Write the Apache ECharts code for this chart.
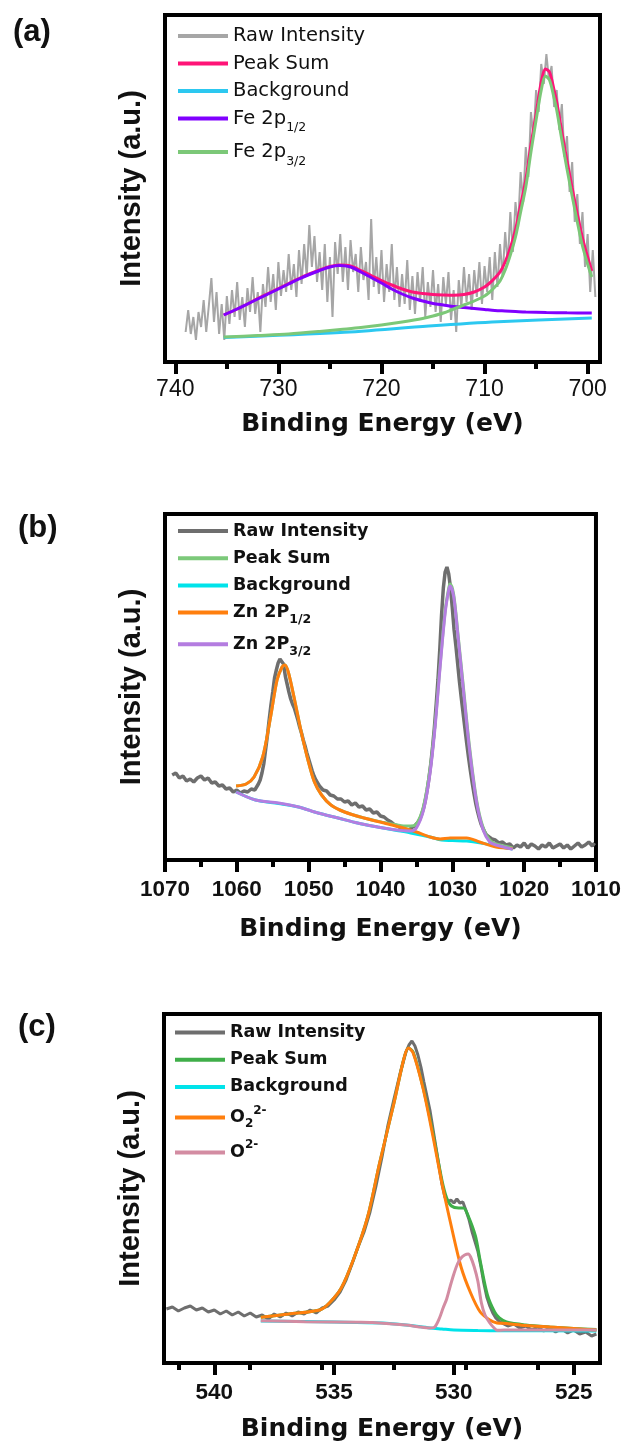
<!DOCTYPE html>
<html>
<head>
<meta charset="utf-8">
<script src="https://cdn.jsdelivr.net/npm/echarts@6/dist/echarts.min.js"></script>
<style>
  html, body { margin: 0; padding: 0; background: #fff; }
  #chart { width: 624px; height: 1443px; }
</style>
</head>
<body>
<div id="chart"></div>
<script>
// ---- panel (a) Fe 2p : [binding energy, intensity] ----
const feRaw = [[739.00,30],[738.75,52],[738.50,28],[738.25,45],[738.00,22],[737.75,50],[737.50,35],[737.25,62],[737.00,30],[736.75,56],[736.50,84],[736.25,40],[736.00,70],[735.75,28],[735.50,58],[735.25,22],[735.00,66],[734.75,38],[734.50,72],[734.25,45],[734.00,80],[733.75,42],[733.50,65],[733.25,35],[733.00,74],[732.75,50],[732.50,85],[732.25,48],[732.00,70],[731.75,30],[731.50,78],[731.25,55],[731.00,95],[730.75,60],[730.50,88],[730.25,52],[730.00,100],[729.75,66],[729.50,92],[729.25,70],[729.00,108],[728.75,72],[728.50,98],[728.25,65],[728.00,112],[727.75,78],[727.50,118],[727.25,85],[727.00,137],[726.75,95],[726.50,126],[726.25,80],[726.00,110],[725.75,72],[725.50,118],[725.25,60],[725.00,105],[724.75,45],[724.50,120],[724.25,88],[724.00,128],[723.75,80],[723.50,115],[723.25,72],[723.00,122],[722.75,90],[722.50,108],[722.25,70],[722.00,115],[721.75,82],[721.50,100],[721.25,62],[721.00,143],[720.75,75],[720.50,105],[720.25,68],[720.00,112],[719.75,60],[719.50,98],[719.25,70],[719.00,118],[718.75,62],[718.50,95],[718.25,55],[718.00,88],[717.75,58],[717.50,102],[717.25,52],[717.00,86],[716.75,48],[716.50,90],[716.25,60],[716.00,95],[715.75,45],[715.50,80],[715.25,55],[715.00,92],[714.75,50],[714.50,78],[714.25,40],[714.00,85],[713.75,58],[713.50,90],[713.25,42],[713.00,72],[712.75,30],[712.50,82],[712.25,55],[712.00,95],[711.75,60],[711.50,88],[711.25,52],[711.00,92],[710.75,65],[710.50,100],[710.25,58],[710.00,96],[709.75,70],[709.50,105],[709.25,62],[709.00,110],[708.75,75],[708.50,118],[708.25,85],[708.00,130],[707.75,98],[707.50,150],[707.25,110],[707.00,160],[706.75,135],[706.50,190],[706.25,160],[706.00,215],[705.75,185],[705.50,250],[705.25,225],[705.00,272],[704.75,250],[704.50,298],[704.25,278],[704.00,308],[703.75,282],[703.50,296],[703.25,255],[703.00,272],[702.75,232],[702.50,258],[702.25,205],[702.00,226],[701.75,170],[701.50,200],[701.25,140],[701.00,168],[700.75,118],[700.50,150],[700.25,95],[700.00,128],[699.75,70],[699.50,112],[699.25,65]];
const feSum = [[735.3,47],[734,53],[733,58],[732,63.5],[731,68.5],[730,73.5],[729,78.5],[728,83.5],[727,88],[726,92],[725,95.5],[724.1,97],[723,96],[722,91.5],[721,86.5],[720,81.5],[719,77],[718,73],[717,70],[716,68.5],[715,67.5],[714,67],[713,66.7],[712,67.5],[711,70],[710,75],[709.5,79],[709,84],[708.5,90],[708,100],[707.5,114],[707,132],[706.5,157],[706,182],[705.5,217],[705,248],[704.5,280],[704.1,293],[703.7,290],[703.3,274],[703,260],[702.5,230],[702,201],[701.5,174],[701,148],[700.5,124],[700,105],[699.6,91]];
const feBg = [[735.3,24.5],[724,29.5],[715.4,36],[708.7,40.3],[699.6,44]];
const fe2p12 = [[735.3,47],[734,53],[733,58],[732,63],[731,68],[730,73],[729,78],[728,83],[727,87.5],[726,91.5],[725,95],[724.1,96.5],[723,95],[722,90],[721,84.5],[720,79],[719,73],[718,68],[717,64],[716,61],[715,58.5],[714,57],[713,55.5],[712,54.5],[711,53.5],[710,52.5],[709,51.5],[708,51],[707,50.5],[706,50],[704,49.5],[702,49.2],[699.6,49]];
const fe2p32 = [[735.3,25],[732,26.5],[729,28],[726,30.5],[724,32.5],[722,34.5],[720,37],[718,40],[716,43.5],[715,46],[714,49],[713,53],[712,57],[711,61],[710,66],[709.5,70],[709,75],[708.5,81],[708,92],[707.5,107],[707,125],[706.5,150],[706,175],[705.5,210],[705,242],[704.5,272],[704.1,286],[703.7,282],[703.3,266],[703,252],[702.5,222],[702,193],[701.5,166],[701,140],[700.5,116],[700,98],[699.6,85]];

// ---- panel (b) Zn 2p ----
const znRaw = [[1069.0,85],[1068.5,87],[1068.0,82],[1067.5,84],[1067.0,79],[1066.5,81],[1066.0,78],[1065.5,82],[1065.0,84],[1064.5,80],[1064.0,82],[1063.5,77],[1063.0,78],[1062.5,74],[1062.0,75],[1061.5,71],[1061.0,72],[1060.5,68],[1060.0,70],[1059.5,67],[1059.0,69],[1058.5,68],[1058.0,71],[1057.5,70],[1057.25,73],[1057.0,76],[1056.75,80],[1056.5,87],[1056.25,96],[1056.0,110],[1055.75,124],[1055.5,140],[1055.25,155],[1055.0,168],[1054.75,182],[1054.5,190],[1054.25,197],[1054.0,201],[1053.75,203],[1053.5,196],[1053.25,184],[1053.0,176],[1052.75,168],[1052.5,161],[1052.25,156],[1052.0,152],[1051.75,146],[1051.5,140],[1051.25,133],[1051.0,127],[1050.75,120],[1050.5,114],[1050.25,107],[1050.0,101],[1049.75,95],[1049.5,89],[1049.25,84],[1049.0,80],[1048.75,77],[1048.5,74],[1048.25,73],[1048.0,70],[1047.5,69],[1047.0,65],[1046.5,64],[1046.0,61],[1045.5,61],[1045.0,58],[1044.5,59],[1044.0,55],[1043.5,57],[1043.0,53],[1042.5,54],[1042.0,50],[1041.5,51],[1041.0,47],[1040.5,48],[1040.0,44],[1039.5,43],[1039.0,40],[1038.5,38],[1038.0,35],[1037.5,34],[1037.0,30],[1036.5,31],[1036.0,28],[1035.75,32],[1035.5,30],[1035.25,34],[1035.0,35],[1034.75,38],[1034.5,41],[1034.25,46],[1034.0,52],[1033.75,60],[1033.5,70],[1033.25,82],[1033.0,96],[1032.75,113],[1032.5,132],[1032.25,155],[1032.0,180],[1031.75,210],[1031.5,245],[1031.25,272],[1031.0,288],[1030.75,293],[1030.5,286],[1030.25,272],[1030.0,252],[1029.75,230],[1029.5,214],[1029.25,196],[1029.0,178],[1028.75,162],[1028.5,147],[1028.25,132],[1028.0,117],[1027.75,103],[1027.5,90],[1027.25,78],[1027.0,67],[1026.75,57],[1026.5,49],[1026.25,42],[1026.0,36],[1025.75,32],[1025.5,28],[1025.25,25],[1025.0,24],[1024.5,21],[1024.0,20],[1023.5,17],[1023.0,18],[1022.5,15],[1022.0,16],[1021.5,12],[1021.0,15],[1020.5,13],[1020.0,17],[1019.5,12],[1019.0,16],[1018.5,14],[1018.0,11],[1017.5,15],[1017.0,13],[1016.5,17],[1016.0,12],[1015.5,14],[1015.0,16],[1014.5,12],[1014.0,15],[1013.5,11],[1013.0,14],[1012.5,17],[1012.0,13],[1011.5,15],[1011.0,18],[1010.5,14],[1010.2,17]];
const znSum = [[1060.1,74],[1058.7,76],[1057.6,83],[1056.4,103],[1055.3,143],[1054.4,180],[1053.7,193],[1053.3,195],[1052.8,187],[1051.9,158],[1051,127],[1050.1,100],[1049.2,78],[1048.2,65],[1046.9,55],[1045,48],[1042.3,42],[1039.5,37.5],[1037.7,35],[1036.8,34],[1035.8,34],[1035,36],[1034,54],[1033.1,91],[1032.4,136],[1031.7,195],[1031,249],[1030.5,272],[1030.3,276],[1029.8,265],[1029.2,225],[1028.5,176],[1027.6,113],[1026.6,59],[1025.7,32],[1024.8,20],[1023.9,16],[1021.6,12]];
const znBg = [[1060.1,68],[1057.4,60],[1054.2,56.5],[1051.4,53],[1048.7,47],[1045.9,42],[1043.2,37],[1040.4,33],[1037.7,29.5],[1035.8,27],[1033.1,23],[1031.5,20],[1030,19.5],[1028,19],[1026,17],[1024,14],[1021.6,11]];
const zn2p12 = [[1060.1,74],[1058.7,76],[1057.6,83],[1056.4,103],[1055.3,143],[1054.4,180],[1053.7,193],[1053.3,195],[1052.8,187],[1051.9,158],[1051,127],[1050.1,100],[1049.2,78],[1048.2,65],[1046.9,55],[1045,48],[1042.3,42],[1039.5,37],[1036.8,32],[1035,28],[1033.1,23],[1031.7,21],[1030.3,22],[1028,22],[1026.2,18],[1023.9,13],[1021.6,11.5]];
const zn2p32 = [[1060.1,68],[1057.4,60],[1054.2,57],[1051.4,53],[1048.7,47],[1045.9,42],[1043.2,37],[1040.4,33],[1037.7,30],[1035.8,29],[1035,32],[1034,50],[1033.1,87],[1032.4,133],[1031.7,193],[1031,247],[1030.5,270],[1030.3,274],[1029.8,263],[1029.2,223],[1028.5,173],[1027.6,110],[1026.6,57],[1025.7,30],[1024.8,18],[1023.9,15],[1021.6,10.7]];

// ---- panel (c) O 1s ----
const oRaw = [[542.0,54],[541.75,56],[541.5,52],[541.25,55],[541.0,57],[540.75,53],[540.5,55],[540.25,51],[540.0,53],[539.75,49],[539.5,52],[539.25,48],[539.0,51],[538.75,47],[538.5,50],[538.25,46],[538.0,48],[537.75,44],[537.5,49],[537.25,46],[537.0,50],[536.75,47],[536.5,51],[536.25,49],[536.0,53],[535.75,50],[535.5,55],[535.25,57],[535.0,63],[534.75,71],[534.5,83],[534.25,99],[534.0,116],[533.75,131],[533.5,151],[533.25,177],[533.0,206],[532.75,238],[532.5,264],[532.25,289],[532.0,311],[531.875,318],[531.75,322],[531.625,317],[531.5,308],[531.375,296],[531.25,281],[531.0,253],[530.75,216],[530.5,179],[530.375,166],[530.25,161],[530.125,163],[530.0,160],[529.875,164],[529.75,160],[529.625,161],[529.5,153],[529.375,144],[529.25,132],[529.125,122],[529.0,112],[528.875,97],[528.75,80],[528.625,66],[528.5,57],[528.375,50],[528.25,45],[528.125,42],[528.0,40],[527.75,37],[527.5,39],[527.25,35],[527.0,37],[526.75,33],[526.5,36],[526.25,32],[526.0,35],[525.75,31],[525.5,34],[525.25,30],[525.0,33],[524.75,29],[524.5,31],[524.25,27],[524.05,29]];
const oSum = [[538.06,45.7],[536.9,49],[535.6,53],[535.2,60],[534.7,75],[534.2,103],[533.6,146],[533.1,200],[532.5,260],[532.1,303],[531.9,315],[531.7,311],[531.3,277],[530.9,233],[530.5,183],[530.3,165],[530.1,157],[529.8,155],[529.6,155],[529.4,147],[529.1,127],[528.9,102],[528.6,68],[528.3,51],[528.1,45],[527.8,41],[527,38],[526,36],[525,34.5],[524.05,33.5]];
const oBg = [[538.06,42],[535,41],[533,40],[532,38],[531,35],[530.5,34],[530,33],[529,32.5],[528,32.3],[524.05,32]];
const oPeroxide = [[538.06,45.7],[536.9,49],[535.6,53],[535.2,60],[534.7,75],[534.2,103],[533.6,146],[533.1,200],[532.5,260],[532.1,303],[531.9,315],[531.7,310],[531.3,276],[530.9,230],[530.5,180],[530.1,136],[529.7,96],[529.3,70],[528.9,51],[528.5,43],[528.2,40],[527.8,39.5],[527,37.5],[526,36],[525,34.5],[524.05,33]];
const oOxide = [[538.06,42.3],[536.2,41.3],[534,40.8],[533.4,40.5],[532,38],[531.5,36.3],[531,35],[530.8,36],[530.6,45],[530.45,55],[530.3,64],[530.15,77],[530,89],[529.85,99],[529.7,105],[529.55,108],[529.4,109],[529.3,106],[529.15,96],[529,82],[528.85,60],[528.7,48],[528.5,40],[528.3,34.5],[528.2,32.7],[527.9,33],[526,33],[524.05,33]];

// tick labels
const feTicks = [700, 710, 720, 730, 740];
const oTicks = [525, 530, 535, 540];

const sans = 'DejaVu Sans';
const arial = 'Liberation Sans';
const ink = '#111';

// legend text, keyed by series name
const labels = {
  'a Raw Intensity': '{n|Raw Intensity}',
  'a Peak Sum': '{n|Peak Sum}',
  'a Background': '{n|Background}',
  'a Fe 2p1/2': '{ns|Fe 2p}{sub|1/2}',
  'a Fe 2p3/2': '{ns|Fe 2p}{sub|3/2}',
  'b Raw Intensity': '{n|Raw Intensity}',
  'b Peak Sum': '{n|Peak Sum}',
  'b Background': '{n|Background}',
  'b Zn 2P1/2': '{ns|Zn 2P}{sub|1/2}',
  'b Zn 2P3/2': '{ns|Zn 2P}{sub|3/2}',
  'c Raw Intensity': '{n|Raw Intensity}',
  'c Peak Sum': '{n|Peak Sum}',
  'c Background': '{n|Background}',
  'c O2 2-': '{n4|O}{sub|2}{sup|2-}',
  'c O 2-': '{n5|O}{sup|2-}'
};

function line(name, data, color, width, idx, smooth) {
  return {
    name: name,
    type: 'line',
    xAxisIndex: idx,
    yAxisIndex: idx,
    data: data,
    color: color,
    symbol: 'none',
    smooth: smooth ? 0.3 : false,
    lineStyle: { color: color, width: width },
    silent: true
  };
}

// line heights only move the sub/superscripts, row spacing comes from itemGap
function legendFor(idx, top, left, bold, size, subSize, gap, lh) {
  const names = Object.keys(labels).filter(k => k.charAt(0) === 'abc'[idx]);
  const w = bold ? 'bold' : 'normal';
  const t = (extra) => Object.assign({ fontFamily: sans, fontWeight: w, fontSize: size, color: ink }, extra);
  const s = (extra) => Object.assign({ fontFamily: sans, fontWeight: w, fontSize: subSize, color: ink }, extra);
  return {
    orient: 'vertical',
    left: left,
    top: top,
    padding: 0,
    itemWidth: 50,
    itemHeight: 4,
    itemGap: gap,
    icon: 'rect',
    selectedMode: false,
    data: names,
    formatter: name => labels[name],
    textStyle: t({
      rich: {
        n: t({}),
        ns: t({ lineHeight: lh.ns }),
        n4: t({ lineHeight: lh.n4 }),
        n5: t({ lineHeight: lh.n5 }),
        sub: s({ verticalAlign: 'bottom' }),
        sup: s({ verticalAlign: 'top' })
      }
    })
  };
}

function xAxisFor(idx, min, max, ticks, bold, nameGap) {
  const ax = {
    type: 'value',
    gridIndex: idx,
    inverse: true,
    min: min,
    max: max,
    name: 'Binding Energy (eV)',
    nameLocation: 'middle',
    nameGap: nameGap,
    nameTextStyle: { fontFamily: sans, fontWeight: 'bold', fontSize: 25, color: ink },
    axisLine: { show: false },
    axisTick: { show: true, inside: false, length: 12, lineStyle: { color: '#000', width: 4 } },
    minorTick: { show: true, splitNumber: 2, length: 7, lineStyle: { color: '#000', width: 4 } },
    splitLine: { show: false },
    minorSplitLine: { show: false },
    axisLabel: {
      margin: bold ? 18 : 16,
      fontFamily: arial,
      fontWeight: bold ? 'bold' : 'normal',
      fontSize: bold ? 22.5 : 23,
      color: ink,
      formatter: v => String(v)
    }
  };
  if (ticks) {
    ax.axisTick.customValues = ticks;
    ax.axisLabel.customValues = ticks;
  } else {
    ax.interval = 10;
  }
  return ax;
}

function yAxisFor(idx, max) {
  return {
    type: 'value',
    gridIndex: idx,
    min: 0,
    max: max,
    name: 'Intensity (a.u.)',
    nameLocation: 'middle',
    nameGap: 19,
    nameTextStyle: { fontFamily: arial, fontWeight: 'bold', fontSize: 29, color: ink },
    axisLine: { show: false },
    axisTick: { show: false },
    axisLabel: { show: false },
    splitLine: { show: false }
  };
}

const gridStyle = { show: true, borderColor: '#000', borderWidth: 4, backgroundColor: 'transparent' };
const panelLabel = { fontFamily: arial, fontWeight: 'bold', fontSize: 31, color: ink };

const chart = echarts.init(document.getElementById('chart'));
chart.setOption({
  animation: false,
  backgroundColor: '#fff',
  title: [
    { text: '(a)', left: 13, top: 17, padding: 0, textStyle: panelLabel },
    { text: '(b)', left: 18, top: 513, padding: 0, textStyle: panelLabel },
    { text: '(c)', left: 18, top: 1012, padding: 0, textStyle: panelLabel }
  ],
  grid: [
    Object.assign({ left: 165, top: 15, width: 435, height: 347 }, gridStyle),
    Object.assign({ left: 165, top: 514, width: 435, height: 346 }, gridStyle),
    Object.assign({ left: 164, top: 1014, width: 436, height: 349 }, gridStyle)
  ],
  legend: [
    legendFor(0, 26, 178, false, 19.5, 12.5, 7.5, { ns: 32 }),
    legendFor(1, 522, 178, true, 17.5, 12.5, 9.2, { ns: 27 }),
    legendFor(2, 1023.5, 175, true, 17.5, 12, 9.2, { n4: 25, n5: 26.5 })
  ],
  xAxis: [
    xAxisFor(0, 698.8, 741, feTicks, false, 50),
    xAxisFor(1, 1010, 1070, null, true, 57),
    xAxisFor(2, 523.9, 542.1, oTicks, true, 54)
  ],
  yAxis: [yAxisFor(0, 347), yAxisFor(1, 346), yAxisFor(2, 349)],
  series: [
    line('a Raw Intensity', feRaw, '#a6a6a6', 2, 0, false),
    line('a Peak Sum', feSum, '#ff1477', 3, 0, true),
    line('a Background', feBg, '#2cc8f0', 3, 0, true),
    line('a Fe 2p1/2', fe2p12, '#8000ff', 3, 0, true),
    line('a Fe 2p3/2', fe2p32, '#7cc878', 3, 0, true),

    line('b Raw Intensity', znRaw, '#6e6e6e', 3.5, 1, false),
    line('b Peak Sum', znSum, '#7cc97a', 3, 1, true),
    line('b Background', znBg, '#00e3ea', 3, 1, true),
    line('b Zn 2P1/2', zn2p12, '#ff7f0e', 3, 1, true),
    line('b Zn 2P3/2', zn2p32, '#b47de0', 3, 1, true),

    line('c Raw Intensity', oRaw, '#6e6e6e', 3, 2, false),
    line('c Peak Sum', oSum, '#3fae49', 3, 2, true),
    line('c Background', oBg, '#00e3ea', 3, 2, true),
    line('c O2 2-', oPeroxide, '#ff7f0e', 3, 2, true),
    line('c O 2-', oOxide, '#d38ca2', 3, 2, true)
  ]
});
</script>
</body>
</html>
